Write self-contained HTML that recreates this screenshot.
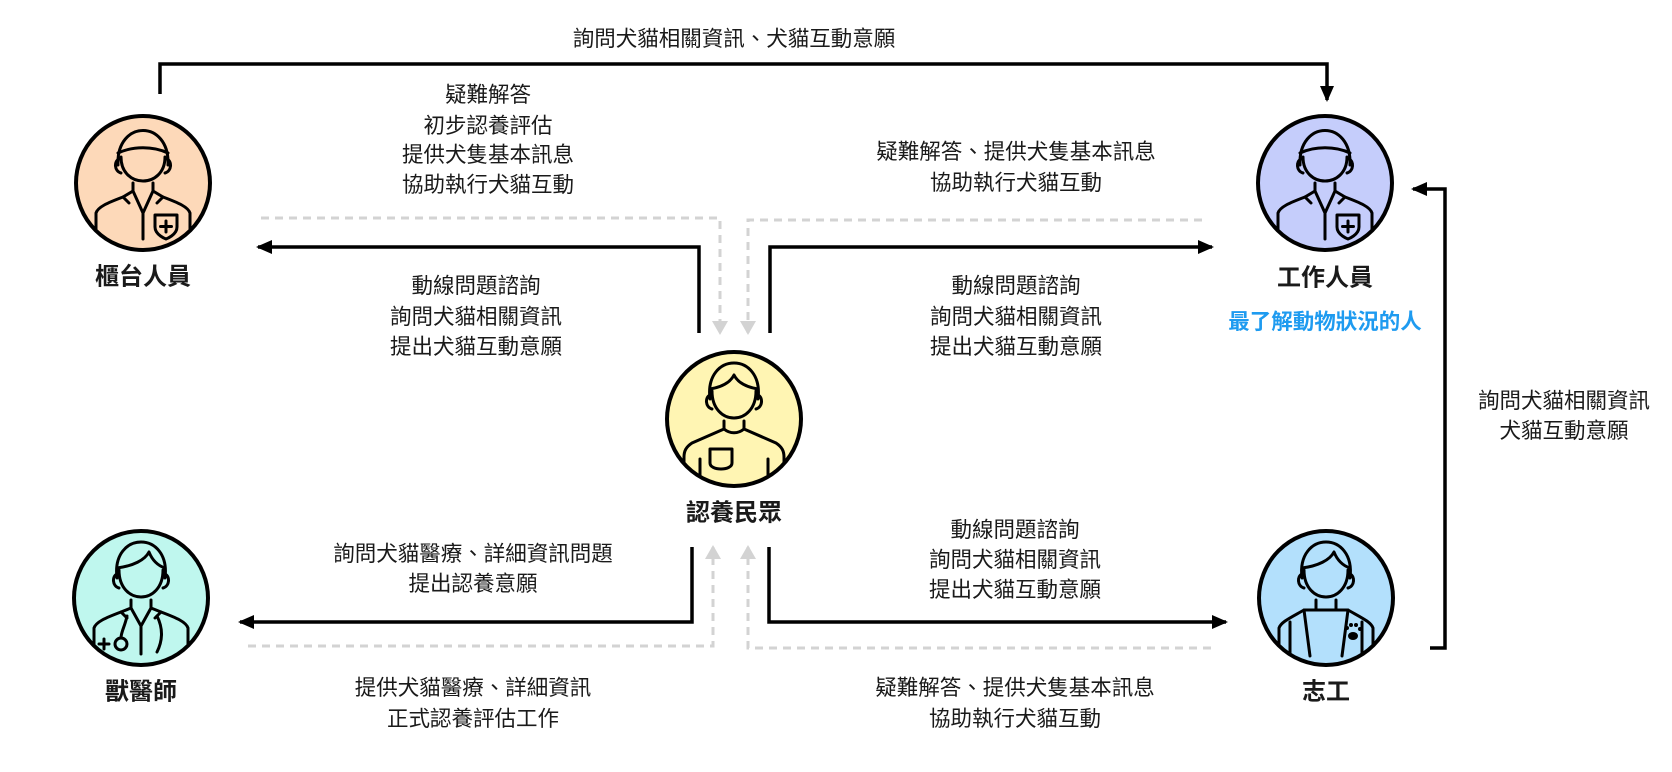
<!DOCTYPE html>
<html><head><meta charset="utf-8"><style>
html,body{margin:0;padding:0;background:#fff}
svg{display:block}
text{font-family:"Liberation Sans","Noto Sans CJK TC",sans-serif;fill:#1a1a1a;text-anchor:middle;dominant-baseline:central}
.t{font-size:21.5px}
.b{font-size:24px;font-weight:bold}
</style></head><body>
<svg width="1672" height="772" viewBox="0 0 1672 772" xmlns="http://www.w3.org/2000/svg">
<defs>
<marker id="a" viewBox="0 0 16 14" markerWidth="16" markerHeight="14" refX="14" refY="7" orient="auto" markerUnits="userSpaceOnUse"><path d="M0,0 L16,7 L0,14 Z" fill="#000"/></marker>
<marker id="g" viewBox="0 0 14 16" markerWidth="14" markerHeight="16" refX="12" refY="8" orient="auto" markerUnits="userSpaceOnUse"><path d="M0,0 L14,8 L0,16 Z" fill="#d3d3d3"/></marker>
<g id="staff" fill="none" stroke="#000" stroke-width="3" stroke-linecap="round" stroke-linejoin="round">
<path d="M-25,-18 C-27,-64 27,-64 25,-18"/>
<path d="M-25,-30 C-10,-37 10,-37 25,-30"/>
<path d="M-24,-24 C-29,-22 -29,-12 -22,-10 M24,-24 C29,-22 29,-12 22,-10"/>
<path d="M-22,-26 C-22,6 22,6 22,-26"/>
<path d="M-10,0 L-10,8 L-20,14 L-14,20 M10,0 L10,8 L20,14 L14,20"/>
<path d="M-10,8 L0,30 L10,8"/>
<path d="M-47,46 L-47,30 C-45,24 -36,20 -20,14 M20,14 C36,20 45,24 47,30 L47,46"/>
<path d="M0,30 L0,56"/>
<path d="M12,32 L34,32 L34,44 C34,52 23,56 23,56 C23,56 12,52 12,44 Z"/>
<path d="M23,38 L23,49 M17.5,43.5 L28.5,43.5"/>
</g>
</defs>

<g fill="none" stroke="#000" stroke-width="3.5">
<path d="M160,94 L160,64 L1327,64 L1327,100" marker-end="url(#a)"/>
<path d="M699,333 L699,247 L258,247" marker-end="url(#a)"/>
<path d="M770,333 L770,247 L1212,247" marker-end="url(#a)"/>
<path d="M692,547 L692,622 L240,622" marker-end="url(#a)"/>
<path d="M769,547 L769,622 L1226,622" marker-end="url(#a)"/>
<path d="M1430,648 L1445,648 L1445,189 L1413,189" marker-end="url(#a)"/>
</g>
<g fill="none" stroke="#d3d3d3" stroke-width="3" stroke-dasharray="8,6">
<path d="M261,218 L720,218 L720,333" marker-end="url(#g)"/>
<path d="M1202,220 L748,220 L748,333" marker-end="url(#g)"/>
<path d="M248,646 L713,646 L713,547" marker-end="url(#g)"/>
<path d="M1211,648 L748,648 L748,547" marker-end="url(#g)"/>
</g>

<g transform="translate(143,183)">
<circle r="67" fill="#fdd9b9"/>
<use href="#staff"/>
<circle r="67" fill="none" stroke="#000" stroke-width="4"/>
</g>
<g transform="translate(1325,183)">
<circle r="67" fill="#c5cdfb"/>
<use href="#staff"/>
<circle r="67" fill="none" stroke="#000" stroke-width="4"/>
</g>

<g transform="translate(734,419)">
<circle r="67" fill="#fff5b3"/>
<g fill="none" stroke="#000" stroke-width="3" stroke-linecap="round" stroke-linejoin="round">
<path d="M-24,-20 C-30,-68 30,-68 24,-20"/>
<path d="M-24,-30 C-12,-32 -4,-36 0,-44 C4,-36 12,-32 24,-30"/>
<path d="M-24,-24 C-29,-22 -29,-12 -22,-10 M24,-24 C29,-22 29,-12 22,-10"/>
<path d="M-22,-28 C-22,8 22,8 22,-28"/>
<path d="M-10,2 L-10,10 L-42,24 C-48,28 -50,32 -50,38 L-50,44 M10,2 L10,10 L42,24 C48,28 50,32 50,38 L50,44"/>
<path d="M-10,10 C-4,15 4,15 10,10"/>
<path d="M-34,40 L-34,56 M34,40 L34,56"/>
<path d="M-24,30 L-2,30 L-2,44 C-2,52 -24,52 -24,44 Z"/>
</g>
<circle r="67" fill="none" stroke="#000" stroke-width="4"/>
</g>

<g transform="translate(141,598)">
<circle r="67" fill="#bff7ee"/>
<g fill="none" stroke="#000" stroke-width="3" stroke-linecap="round" stroke-linejoin="round">
<path d="M-24,-20 C-30,-68 30,-68 24,-20"/>
<path d="M-24,-30 C-8,-32 4,-38 8,-46 C12,-36 18,-32 24,-30"/>
<path d="M-24,-24 C-29,-22 -29,-12 -22,-10 M24,-24 C29,-22 29,-12 22,-10"/>
<path d="M-22,-28 C-22,8 22,8 22,-28"/>
<path d="M-10,2 L-10,10 L-20,14 L-14,20 M10,2 L10,10 L20,14 L14,20"/>
<path d="M-10,10 L0,28 L10,10"/>
<path d="M-47,46 L-47,30 C-45,24 -36,20 -20,14 M20,14 C36,20 45,24 47,30 L47,46"/>
<path d="M0,28 L0,56"/>
<path d="M-14,18 C-16,28 -20,34 -20,40 M16,18 C22,30 22,42 16,54"/>
<circle cx="-20" cy="46" r="6"/>
<path d="M-42,46 L-32,46 M-37,41 L-37,51"/>
</g>
<circle r="67" fill="none" stroke="#000" stroke-width="4"/>
</g>

<g transform="translate(1326,598)">
<circle r="67" fill="#b3e0fc"/>
<g fill="none" stroke="#000" stroke-width="3" stroke-linecap="round" stroke-linejoin="round">
<path d="M-24,-20 C-30,-68 30,-68 24,-20"/>
<path d="M-24,-30 C-8,-32 4,-38 8,-46 C12,-36 18,-32 24,-30"/>
<path d="M-24,-24 C-29,-22 -29,-12 -22,-10 M24,-24 C29,-22 29,-12 22,-10"/>
<path d="M-22,-28 C-22,8 22,8 22,-28"/>
<path d="M-10,2 L-10,12 M10,2 L10,12"/>
<path d="M-47,46 L-47,30 C-45,24 -36,20 -22,12 L22,12 C36,20 45,24 47,30 L47,46"/>
<path d="M-22,12 L-16,58 M22,12 L16,58 M-36,24 L-36,56 M36,24 L36,56"/>
</g>
<g fill="#000" transform="translate(27,-8)">
<ellipse cx="0" cy="46" rx="5" ry="4"/>
<circle cx="-6" cy="38" r="2"/><circle cx="-2" cy="35" r="2"/><circle cx="3" cy="35" r="2"/><circle cx="7" cy="39" r="2"/>
</g>
<circle r="67" fill="none" stroke="#000" stroke-width="4"/>
</g>

<text class="b" x="143" y="277">櫃台人員</text>
<text class="b" x="1325" y="278">工作人員</text>
<text class="b" x="1325" y="322" style="fill:#1e9bf0;font-size:21.5px">最了解動物狀況的人</text>
<text class="b" x="734" y="513">認養民眾</text>
<text class="b" x="141" y="692">獸醫師</text>
<text class="b" x="1326" y="692">志工</text>

<text class="t" x="734" y="39">詢問犬貓相關資訊、犬貓互動意願</text>
<text class="t" x="488" y="95">疑難解答</text>
<text class="t" x="488" y="126">初步認養評估</text>
<text class="t" x="488" y="155">提供犬隻基本訊息</text>
<text class="t" x="488" y="185">協助執行犬貓互動</text>
<text class="t" x="476" y="286">動線問題諮詢</text>
<text class="t" x="476" y="317">詢問犬貓相關資訊</text>
<text class="t" x="476" y="347">提出犬貓互動意願</text>
<text class="t" x="1016" y="152">疑難解答、提供犬隻基本訊息</text>
<text class="t" x="1016" y="183">協助執行犬貓互動</text>
<text class="t" x="1016" y="286">動線問題諮詢</text>
<text class="t" x="1016" y="317">詢問犬貓相關資訊</text>
<text class="t" x="1016" y="347">提出犬貓互動意願</text>
<text class="t" x="1564" y="401">詢問犬貓相關資訊</text>
<text class="t" x="1564" y="431">犬貓互動意願</text>
<text class="t" x="473" y="554">詢問犬貓醫療、詳細資訊問題</text>
<text class="t" x="473" y="584">提出認養意願</text>
<text class="t" x="1015" y="530">動線問題諮詢</text>
<text class="t" x="1015" y="560">詢問犬貓相關資訊</text>
<text class="t" x="1015" y="590">提出犬貓互動意願</text>
<text class="t" x="473" y="688">提供犬貓醫療、詳細資訊</text>
<text class="t" x="473" y="719">正式認養評估工作</text>
<text class="t" x="1015" y="688">疑難解答、提供犬隻基本訊息</text>
<text class="t" x="1015" y="719">協助執行犬貓互動</text>
</svg>
</body></html>
